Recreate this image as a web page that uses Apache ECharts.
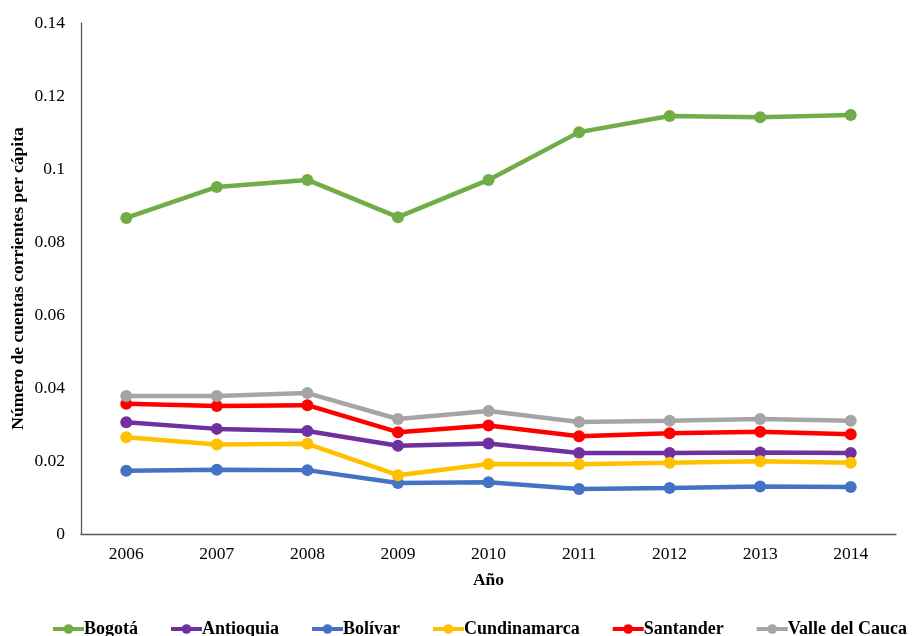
<!DOCTYPE html>
<html>
<head>
<meta charset="utf-8">
<script src="https://cdn.jsdelivr.net/npm/echarts@6/dist/echarts.min.js"></script>
<style>
  html, body { margin: 0; padding: 0; background: #fff; }
  #chart { width: 917px; height: 636px; }
</style>
</head>
<body>
<div id="chart"></div>
<script>
const years = ['2006', '2007', '2008', '2009', '2010', '2011', '2012', '2013', '2014']

const bogota = [0.0866, 0.0951, 0.0970, 0.0868, 0.0970, 0.1101, 0.1145, 0.1142, 0.1148]
const antioquia = [0.0306, 0.0288, 0.0282, 0.0242, 0.0248, 0.0222, 0.0222, 0.0223, 0.0222]
const bolivar = [0.0173, 0.0176, 0.0175, 0.0140, 0.0142, 0.0123, 0.0126, 0.0130, 0.0129]
const cundinamarca = [0.0265, 0.0245, 0.0247, 0.0161, 0.0192, 0.0191, 0.0195, 0.0199, 0.0195]
const santander = [0.0357, 0.0351, 0.0353, 0.0279, 0.0297, 0.0268, 0.0276, 0.0280, 0.0273]
const valle = [0.0378, 0.0378, 0.0386, 0.0315, 0.0337, 0.0307, 0.0310, 0.0315, 0.0310]

const SERIES = [
  ['Bogotá', bogota, '#70ad47'],
  ['Antioquia', antioquia, '#7030a0'],
  ['Bolívar', bolivar, '#4472c4'],
  ['Cundinamarca', cundinamarca, '#ffc000'],
  ['Santander', santander, '#ff0000'],
  ['Valle del Cauca', valle, '#a5a5a5'],
]

const FONT = '"Liberation Serif", "Times New Roman", serif'

const chart = echarts.init(document.getElementById('chart'))

const option = {
  animation: false,
  textStyle: { fontFamily: FONT },
  grid: { left: 81, right: 21, top: 23, bottom: 102, outerBoundsMode: 'none', containLabel: false },
  legend: {
    top: 620,
    left: 51,
    width: 866,
    padding: 0,
    itemWidth: 31,
    itemHeight: 12,
    itemGap: 31,
    lineStyle: { width: 4 },
    textStyle: { fontFamily: FONT, fontWeight: 'bold', fontSize: 18, color: '#000', padding: [0, 0, 0, -5] },
    data: SERIES.map(s => s[0])
  },
  xAxis: {
    type: 'category',
    data: years,
    name: 'Año',
    nameLocation: 'middle',
    nameGap: 37,
    nameTextStyle: { fontFamily: FONT, fontWeight: 'bold', fontSize: 17.5, color: '#000' },
    axisLine: { lineStyle: { color: '#595959', width: 1.3 } },
    axisTick: { show: false },
    axisLabel: { color: '#000', fontSize: 17.5, margin: 11 }
  },
  yAxis: {
    type: 'value',
    min: 0,
    max: 0.14,
    interval: 0.02,
    name: 'Número de cuentas corrientes per cápita',
    nameLocation: 'middle',
    nameGap: 54,
    nameMoveOverlap: false,
    nameTextStyle: { fontFamily: FONT, fontWeight: 'bold', fontSize: 17.5, color: '#000' },
    axisLine: { show: true, lineStyle: { color: '#595959', width: 1.3 } },
    axisTick: { show: false },
    splitLine: { show: false },
    axisLabel: {
      color: '#000',
      fontSize: 17.5,
      margin: 16,
      formatter: v => String(+v.toFixed(2))
    }
  },
  series: SERIES.map(([name, data, color]) => ({
    name: name,
    type: 'line',
    data: data,
    color: color,
    symbol: 'circle',
    symbolSize: 12,
    lineStyle: { width: 4.5, color: color },
    itemStyle: { color: color }
  }))
}

chart.setOption(option)
</script>
</body>
</html>
